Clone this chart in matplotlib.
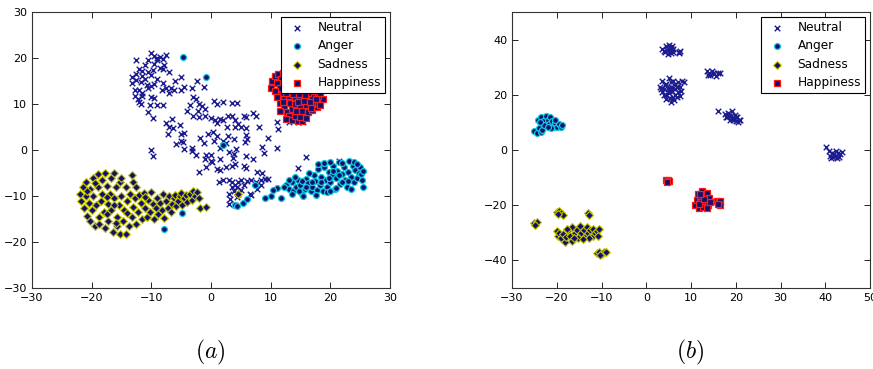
import matplotlib
matplotlib.use("Agg")
import matplotlib.pyplot as plt
import numpy as np

plt.rcParams['mathtext.fontset'] = 'cm'
plt.rcParams['font.family'] = ['DejaVu Sans']

classes = ["Neutral", "Anger", "Sadness", "Happiness"]

# ---------------- panel (a) ----------------
a_neutral = [
    (-10, 21), (-9.5, 20.5), (-9, 20), (-8.5, 20.2), (-7.5, 20.6), (-10.5, 19.5), (-9, 19.5), (-8, 19.8),
    (-12.5, 19.6), (-11, 18.5), (-9.5, 18.8), (-7.8, 18.5), (-8.5, 17.8), (-12, 17.6), (-11.5, 17.2),
    (-10.5, 17), (-9.8, 17.5), (-8, 17.7), (-7, 17), (-12.5, 16.5), (-11.5, 16), (-11, 15.5), (-10, 16.2),
    (-9, 15.5), (-12.5, 15.2), (-13.2, 15.8), (-11.8, 14.8), (-10.8, 14.2), (-10, 14), (-9.5, 14.3),
    (-8, 14.5), (-5, 15.9), (-6, 15), (-2.3, 15), (-13.3, 14.5), (-12, 13), (-11.5, 12.5), (-12.8, 13),
    (-10.5, 13.5), (-8.2, 13), (-7.5, 13.5), (-6.7, 13.5), (-6.2, 13), (-5, 13.1), (-4.5, 13.8),
    (-3.2, 13.5), (-1.2, 13.8), (-7, 12.5), (-12.8, 11.8), (-11.5, 11.8), (-12.3, 11), (-10, 11.6),
    (-9.5, 11.2), (-12, 10.5), (-11.8, 10), (-10.3, 9.8), (-9, 9.8), (-8, 9.8), (-10.5, 8.2), (-9.8, 7),
    (-7.5, 5.8), (-6.5, 6.7), (-7, 5), (-6.3, 4.8), (-5.2, 5.4), (-7.2, 3.4), (-4.5, 3.7), (-5, 3.5),
    (-5, 2), (-4.7, 1.7), (-5.8, 1.2), (-4.5, 0.3), (-3.2, 0.5), (-10, 0), (-9.7, -1.2), (-3.2, -0.3),
    (-2.5, -1), (-3, 11.5), (-2.5, 11), (-2, 10), (-1.5, 9.5), (-3.5, 9.8), (-1, 9), (-2.2, 8.5),
    (-4, 8.5), (0.5, 10.6), (1, 10), (2, 10.5), (3.5, 10.2), (4.3, 10.2), (-3, 7.5), (-2, 7.2), (-1, 7.3),
    (0, 7), (0.7, 6.6), (1.5, 6.7), (2, 6.6), (2.8, 7.5), (3.5, 7.3), (5.5, 7.3), (5.8, 7.2), (7, 8),
    (7.5, 7.5), (4, 6.5), (4.5, 5.7), (1, 5.8), (0.3, 4), (1, 3), (2.7, 5), (4.1, 5), (5, 5), (5.8, 4.8),
    (8, 5), (9.5, 2.7), (11, 6), (11.3, 4.6), (11, 0.5), (14.5, 6), (15.5, 6), (13, 6), (-0.5, 3.4),
    (-1.8, 2.7), (-1.2, 1.5), (0.5, 2), (2, 2), (2.8, 3), (3.8, 2.5), (5.8, 3.2), (5.7, 1.8), (6, 2.5),
    (1.5, 0.5), (2.5, 1.5), (4.2, 0.2), (3, -0.5), (3.8, -0.8), (0, -1), (-0.8, -1.1), (8.5, 0.7),
    (8.8, -0.6), (-1, -2), (0.1, -2.5), (0, -2.3), (1.5, -2), (3.7, -1.7), (5.8, -1.2), (7, -2),
    (-2, -4.8), (1, -4.2), (1.5, -4.3), (2.5, -3.7), (3.5, -3.5), (4, -3), (5.5, -3.5), (5.8, -4),
    (7.7, -4.7), (8.5, -5), (-0.8, -3.8), (2, -6.5), (1.3, -7), (3, -6.5), (3.5, -7), (4, -7.5),
    (4.3, -8), (4.5, -7), (5, -6.5), (5.5, -7.5), (6, -6.8), (6.7, -6.5), (7.5, -7), (8.3, -6.5),
    (9, -6.3), (9.5, -6.3), (8.3, -7.5), (7.7, -8.5), (3.5, -8), (3.8, -9), (5, -8.8), (4.5, -9.5),
    (3, -9.5), (6.5, -9.5), (6.7, -9.8), (3, -11.7), (4, -11.9), (16, -1.5), (21.5, -2.3), (14.5, -4),
    (4.3, -10.3), (3.2, -10.7),
]
a_anger = [
    (-4.7, 20.3), (-0.8, 15.8), (2, 1), (4, -12), (4.3, -12.2), (5.3, -11.5), (6, -10.7), (9, -10.4),
    (10.1, -10.1), (11.8, -10.4), (11, -8.3), (7.4, -7.6), (10.4, -8.7), (-4.9, -13.8), (-7.9, -17.1),
    (12.5, -7.5), (13, -8.5), (13.5, -7), (13.8, -9), (14.2, -8), (14.5, -6.5), (15, -7.5), (15.2, -9.5),
    (15.7, -8.5), (16, -6.2), (16.3, -7.2), (16.7, -9), (17, -8), (17.2, -5.5), (17.5, -6.8), (17.8, -8.7),
    (18, -4.2), (18.2, -7.5), (18.5, -5.8), (18.8, -9), (19, -3.7), (19.2, -6.5), (19.5, -8), (19.7, -4.8),
    (20, -7), (20.2, -5.5), (20.5, -3.5), (20.8, -8.5), (21, -6), (21.2, -4.5), (21.5, -2.5), (21.7, -7.3),
    (22, -5.2), (22.3, -3.8), (22.5, -6.5), (22.8, -8), (23, -4.7), (23.2, -2.3), (23.5, -5.8),
    (23.8, -3.5), (24, -7), (24.2, -4.3), (24.5, -6), (24.8, -5), (25, -3.7), (25.3, -6.5), (25.4, -8),
    (25.2, -5.2), (16.5, -5), (14, -5.8), (13, -6.5), (12.2, -8), (15.5, -10), (17.6, -9.8), (19.5, -9.2),
    (21, -8.2), (18, -3), (19, -2.8), (20, -2.5), (22, -2.8), (24, -2.7), (23, -6.8), (21.5, -5.5),
    (20.5, -4.5), (19.8, -6), (18.5, -7), (17, -7), (16, -8), (15.3, -6.8), (14.8, -9), (13.5, -9.5),
    (22, -7), (24.5, -3), (25.5, -4.5), (23.5, -8.5), (20, -9),
]
a_sadness = [
    (-22, -9.5), (-21.8, -11), (-21.5, -8), (-21.3, -12.5), (-21, -7), (-21, -10), (-20.8, -14.3),
    (-20.5, -11.5), (-20.3, -8.5), (-20, -13), (-19.8, -6), (-19.7, -10), (-19.5, -16.6), (-19.2, -12),
    (-19, -5.2), (-19, -8), (-18.8, -14.5), (-18.5, -11), (-18.3, -6.5), (-18.2, -9.5), (-18, -13.5),
    (-17.8, -17), (-17.7, -5), (-17.5, -7.8), (-17.3, -11.8), (-17.2, -15.5), (-17, -9.5), (-16.8, -6),
    (-16.7, -13), (-16.5, -17.8), (-16.3, -10.5), (-16.2, -5), (-16, -8), (-15.8, -14.5), (-15.7, -16.5),
    (-15.5, -12), (-15.3, -18.3), (-15.2, -7), (-15, -10), (-14.8, -15.5), (-14.5, -13), (-14.3, -8),
    (-14.2, -18.2), (-14, -11), (-13.8, -16.5), (-13.5, -9.5), (-13.3, -5.5), (-13.2, -14.5),
    (-13, -12.3), (-12.8, -10.5), (-12.5, -16), (-12.2, -13.5), (-12, -9.8), (-11.8, -11.5),
    (-11.5, -15), (-11.2, -9.3), (-11, -12.5), (-10.8, -14.5), (-10.5, -10.8), (-10.2, -13.5),
    (-10, -9.2), (-9.8, -11.7), (-9.5, -15), (-9.2, -12.5), (-9, -10.5), (-8.8, -14), (-8.5, -11.5),
    (-8.2, -13), (-8, -9.5), (-7.8, -14.8), (-7.5, -11), (-7.2, -12.5), (-7, -10), (-6.7, -13.5),
    (-6.5, -11.8), (-6.2, -10.5), (-6, -9.8), (-5.8, -12.2), (-5.5, -11), (-5.2, -10), (-5, -9.3),
    (-4.8, -12), (-4.5, -10.5), (-4.2, -9.8), (-4, -11.2), (-3.5, -9.5), (-3.2, -10.8), (-3, -9),
    (-2.7, -10), (-2.3, -9.2), (-2, -10.5), (-1.8, -12.5), (-0.8, -12.3), (-20.2, -15.5), (-18.8, -16),
    (-17.5, -14), (-16, -15.8), (-13, -7), (-12.5, -8), (-15, -6), (-19.5, -7.2), (-20.8, -9),
    (-17.5, -10.3), (-16.3, -12), (-14, -13.8), (-11, -10.2), (4.5, -9.5),
]
a_happiness = [
    (10, 13.5), (10.3, 15), (10.8, 16), (11.3, 16.5), (12, 16.8), (11.8, 15.5), (11, 14.5), (11.5, 13.5),
    (10.7, 12.8), (12.2, 14.5), (12.5, 13.2), (11.8, 12), (11, 11.5), (12.3, 11), (11.5, 10.3), (12.2, 9.3),
    (11.5, 8.5), (12.8, 8.2), (13, 7.5), (12.5, 6.8), (13.5, 6.5), (14.5, 6.3), (15.3, 6.2), (14, 7.5),
    (15, 7.2), (16, 7), (13.5, 9), (14.3, 8.5), (15.3, 8.5), (16.2, 8.3), (17, 8.8), (17.8, 9.3),
    (13.2, 10.3), (14, 10), (15, 9.8), (16, 9.7), (17, 10), (18, 10.2), (18.8, 11), (13, 11.8), (14, 11.5),
    (15, 11.3), (16, 11.2), (17, 11.5), (18, 11.8), (13.3, 13), (14.3, 12.8), (15.3, 12.7), (16.3, 12.5),
    (17.3, 12.8), (13, 14.3), (14, 14), (15, 13.8), (16, 13.7), (17.5, 13.5), (13.5, 15.3), (14.5, 15),
    (15.5, 14.8), (12.8, 16), (13.8, 16.3), (16.5, 14.5), (18.2, 12.5), (12.6, 12.3), (14.6, 10.5),
    (15.6, 10.6), (16.6, 10.4), (13.8, 12.2), (15.8, 12), (14.8, 12.2), (17.6, 11), (16.8, 9.2),
    (18.3, 9.8), (12, 10.5),
]

# ---------------- panel (b) ----------------
b_neutral = [
    (4, 36), (4.5, 37.5), (5, 38), (5.5, 37), (5, 36), (4.3, 35.5), (5.5, 35), (6, 36.5), (3.5, 36.5),
    (4.8, 34.8), (5.8, 37.8), (5.2, 36.8), (4.6, 36.3), (5.9, 35.6), (7.3, 35.5), (7.6, 35.8), (7.4, 35.2),
    (3, 23), (3.5, 25), (4, 22), (4.5, 24), (5, 26), (5.5, 23), (6, 25), (6.5, 22), (7, 24.5), (7.5, 23),
    (8, 25), (8.5, 24.5), (4, 20), (4.5, 18.5), (5, 20.5), (5.5, 17.5), (6, 19), (6.5, 20), (7, 21),
    (7.5, 19.5), (3.5, 21), (4.8, 22.5), (5.8, 21.5), (6.8, 22.8), (5.2, 19), (6.2, 18), (3.2, 22),
    (7.8, 21.5), (4.2, 23.5), (5.5, 24.8), (6.5, 24), (5, 21.5), (6, 22.5), (4.5, 19.8), (6.8, 19.2),
    (13.5, 28.5), (14, 28), (14.3, 27), (14.8, 28.5), (15.2, 27.5), (15.5, 26.8), (16, 27.8), (16.5, 28),
    (13.8, 27.3), (15, 28), (16, 14), (17.5, 13), (18, 12), (18.3, 13.5), (18.8, 11), (19, 12.5),
    (19.2, 14), (19.5, 11.5), (19.8, 12.8), (20, 10.5), (20.3, 11.8), (20.6, 10), (20.8, 11), (21, 10.8),
    (18.5, 12.5), (19.3, 10.8), (20.1, 12), (17.8, 11.8), (40.2, 1), (40.8, -0.5), (41, -2), (41.5, -1),
    (41.8, -2.5), (42, -1.5), (42.3, -0.5), (42.5, -2), (42.8, -1), (43, -2.5), (43.3, -1.5),
    (43.8, -0.8), (41.3, -2.8), (42.6, -2.8),
]
b_anger = [
    (-25, 7), (-24.5, 6.3), (-24, 7.8), (-23.5, 6.5), (-23.2, 7.2), (-24.3, 11), (-23.5, 12), (-23, 10.5),
    (-22.5, 12.3), (-22, 11), (-21.8, 9.5), (-21.5, 12), (-21, 10.5), (-20.7, 8.5), (-20.3, 9.8),
    (-20, 8.5), (-19.5, 9.3), (-19, 8.3), (-18.8, 9), (-22.8, 9), (-21.2, 8), (-20.5, 11), (-22, 8.5),
    (-23.8, 10),
]
b_sadness = [
    (-25, -26.5), (-24.5, -26), (-24.8, -27), (-20, -22.5), (-19.5, -22), (-19, -23), (-18.5, -23.5),
    (-19.8, -23.2), (-13, -23), (-12.8, -23.5), (-20, -29.5), (-19.8, -31), (-19.5, -30), (-19, -32),
    (-18.5, -30.5), (-18.2, -33.5), (-18, -31.5), (-17.5, -29), (-17, -31), (-16.5, -33), (-16.5, -28),
    (-16, -30), (-15.5, -29), (-15, -31.5), (-14.8, -27.5), (-14.5, -30), (-14, -29), (-13.5, -31),
    (-13.2, -28), (-13, -30), (-12.5, -29), (-12, -31), (-11.8, -28.5), (-11.5, -30), (-11, -29.5),
    (-10.8, -31), (-10.5, -28.8), (-17.8, -28.5), (-15.2, -32), (-12.8, -32), (-14.2, -32.2),
    (-16.2, -31.8), (-11, -37.3), (-10.5, -36.8), (-10, -37.5), (-9.5, -37), (-9, -36.8), (-10.3, -38),
]
b_happiness = [
    (4.5, -11), (4.8, -10.8), (5, -11.3), (4.6, -11.5), (11, -20), (11.3, -18), (11.5, -16), (11.8, -21),
    (12, -17), (12.3, -19), (12.5, -15), (12.7, -20.5), (13, -16.5), (13.2, -18.5), (13.5, -15.5),
    (13.7, -20), (14, -17.5), (14.2, -19), (11.7, -19.5), (12.8, -17.8), (13.5, -21), (12, -15.8),
    (15.8, -18.3), (16.2, -19), (16.5, -18.5), (16.4, -20), (16, -19.5),
]

panels = [
    dict(data=[a_neutral, a_anger, a_sadness, a_happiness], xlim=(-30, 30), ylim=(-30, 30),
         xticks=[-30, -20, -10, 0, 10, 20, 30], yticks=[-30, -20, -10, 0, 10, 20, 30], label='$(a)$'),
    dict(data=[b_neutral, b_anger, b_sadness, b_happiness], xlim=(-30, 50), ylim=(-50, 50),
         xticks=[-30, -20, -10, 0, 10, 20, 30, 40, 50], yticks=[-40, -20, 0, 20, 40], label='$(b)$'),
]

navy = '#10106e'
styles = [
    dict(marker='x', color='#1c1c90', s=16, linewidths=1.0),
    dict(marker='o', facecolors=navy, edgecolors='#10c8dc', s=18, linewidths=0.9),
    dict(marker='D', facecolors=navy, edgecolors='#c4c400', s=16, linewidths=0.8),
    dict(marker='s', facecolors=navy, edgecolors='#ff1a1a', s=16, linewidths=0.9),
]

W, H = 873, 369
fig = plt.figure(figsize=(W / 100, H / 100), dpi=100)
axes_px = [(32, 12, 390, 288), (512, 12, 870, 288)]
label_x = [210, 690]

for p, (l, t, r, b), lx in zip(panels, axes_px, label_x):
    ax = fig.add_axes([l / W, 1 - b / H, (r - l) / W, (b - t) / H])
    for name, pts, st in zip(classes, p['data'], styles):
        arr = np.array(pts, dtype=float)
        ax.scatter(arr[:, 0], arr[:, 1], label=name, **st)
    ax.set_xlim(*p['xlim'])
    ax.set_ylim(*p['ylim'])
    ax.set_xticks(p['xticks'])
    ax.set_yticks(p['yticks'])
    ax.tick_params(direction='in', top=True, right=True, labelsize=8, length=4, width=0.6)
    for sp in ax.spines.values():
        sp.set_linewidth(0.8)
        sp.set_color('#333333')
    leg = ax.legend(loc='upper right', scatterpoints=1, fontsize=8.7, fancybox=False, framealpha=1,
                    edgecolor='black', handlelength=2.0, handletextpad=0.7, borderaxespad=0.45,
                    labelspacing=0.45, borderpad=0.3)
    leg.get_frame().set_linewidth(0.8)
    fig.text(lx / W, 1 - 352 / H, p['label'], fontsize=17, ha='center', va='center')

fig.savefig('out.png', dpi=100)
